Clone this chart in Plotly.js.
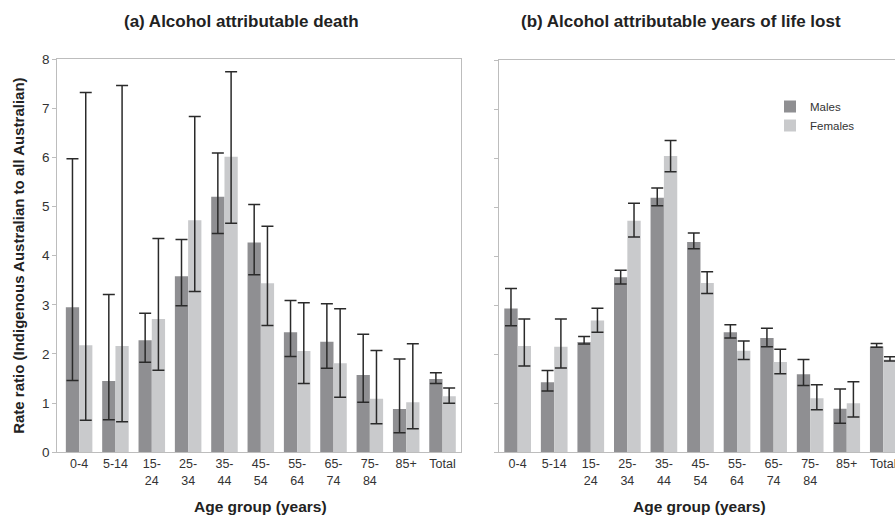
<!DOCTYPE html>
<html>
<head>
<meta charset="utf-8">
<script src="https://cdn.plot.ly/plotly-3.0.1.min.js"></script>
<style>html,body{margin:0;padding:0;background:#fff;}#chart{width:895px;height:517px;}</style>
</head>
<body>
<div id="chart"></div>
<script>
// Categories (age groups)
const ageGroups = ["0-4", "5-14", "15-<br>24", "25-<br>34", "35-<br>44", "45-<br>54", "55-<br>64", "65-<br>74", "75-<br>84", "85+", "Total"];

// (a) Alcohol attributable death – rate ratios with 95% CI
const deathMales      = [2.95, 1.45, 2.28, 3.58, 5.20, 4.27, 2.44, 2.25, 1.57, 0.88, 1.49];
const deathMalesUp    = [5.97, 3.21, 2.83, 4.33, 6.09, 5.04, 3.09, 3.02, 2.40, 1.90, 1.62];
const deathMalesLo    = [1.46, 0.66, 1.83, 2.98, 4.45, 3.61, 1.95, 1.71, 1.02, 0.40, 1.40];
const deathFemales    = [2.18, 2.16, 2.71, 4.72, 6.01, 3.44, 2.06, 1.81, 1.09, 1.02, 1.14];
const deathFemalesUp  = [7.32, 7.46, 4.35, 6.83, 7.74, 4.60, 3.04, 2.92, 2.07, 2.21, 1.31];
const deathFemalesLo  = [0.65, 0.62, 1.67, 3.27, 4.66, 2.58, 1.40, 1.12, 0.58, 0.48, 1.00];

// (b) Alcohol attributable years of life lost – rate ratios with 95% CI
const yllMales        = [2.93, 1.43, 2.25, 3.57, 5.19, 4.29, 2.45, 2.33, 1.59, 0.89, 2.16];
const yllMalesUp      = [3.34, 1.67, 2.36, 3.71, 5.39, 4.47, 2.60, 2.53, 1.89, 1.29, 2.22];
const yllMalesLo      = [2.58, 1.25, 2.21, 3.43, 5.03, 4.15, 2.33, 2.15, 1.36, 0.59, 2.14];
const yllFemales      = [2.17, 2.15, 2.69, 4.72, 6.04, 3.45, 2.07, 1.84, 1.10, 1.00, 1.89];
const yllFemalesUp    = [2.72, 2.72, 2.94, 5.08, 6.36, 3.68, 2.27, 2.10, 1.38, 1.44, 1.95];
const yllFemalesLo    = [1.76, 1.72, 2.45, 4.39, 5.72, 3.24, 1.89, 1.60, 0.87, 0.72, 1.86];

const seriesNames = ["Males", "Females"];

const maleColor = "#8f8f92";
const femaleColor = "#c9cacc";
const errColor = "#2a2a2a";
const FONT = "Liberation Sans, Arial, sans-serif";

function err(vals, up, lo) {
  return {
    type: "data", symmetric: false,
    array: vals.map((v, i) => up[i] - v),
    arrayminus: vals.map((v, i) => v - lo[i]),
    color: errColor, thickness: 1.5, width: 6, visible: true
  };
}

const idx = ageGroups.map((_, i) => i);

const traces = [
  {type: "bar", x: idx, y: deathMales, name: seriesNames[0], marker: {color: maleColor},
   error_y: err(deathMales, deathMalesUp, deathMalesLo), xaxis: "x", yaxis: "y", showlegend: false},
  {type: "bar", x: idx, y: deathFemales, name: seriesNames[1], marker: {color: femaleColor},
   error_y: err(deathFemales, deathFemalesUp, deathFemalesLo), xaxis: "x", yaxis: "y", showlegend: false},
  {type: "bar", x: idx, y: yllMales, name: seriesNames[0], marker: {color: maleColor},
   error_y: err(yllMales, yllMalesUp, yllMalesLo), xaxis: "x2", yaxis: "y2", showlegend: true},
  {type: "bar", x: idx, y: yllFemales, name: seriesNames[1], marker: {color: femaleColor},
   error_y: err(yllFemales, yllFemalesUp, yllFemalesLo), xaxis: "x2", yaxis: "y2", showlegend: true}
];

const tickFont = {family: FONT, size: 12.5, color: "#333"};
const titleFont = {family: FONT, size: 15.5, color: "#222", weight: "bold"};
const frame = "#bdbdbd";

const layout = {
  width: 895, height: 517,
  margin: {l: 0, r: 0, t: 0, b: 0},
  paper_bgcolor: "#fff", plot_bgcolor: "#fff",
  barmode: "group", bargap: 0.27, bargroupgap: 0,
  font: {family: FONT, color: "#333"},
  xaxis: {
    domain: [57.3/895, 460.7/895], range: [-0.6, 10.5],
    tickmode: "array", tickvals: idx, ticktext: ageGroups,
    tickfont: tickFont, ticks: "", showline: true, linecolor: frame, linewidth: 1, mirror: true,
    showgrid: false, zeroline: false, fixedrange: true
  },
  yaxis: {
    domain: [(517-452.3)/517, (517-59)/517], range: [0, 8],
    tickvals: [0,1,2,3,4,5,6,7,8], tickfont: {family: FONT, size: 13.5, color: "#333"},
    ticks: "outside", ticklen: 4, tickcolor: frame,
    showline: true, linecolor: frame, linewidth: 1, mirror: true,
    showgrid: false, zeroline: false, fixedrange: true,
    title: {text: "Rate ratio (Indigenous Australian to all Australian)", font: {family: FONT, size: 15, color: "#222", weight: "bold"}, standoff: 13}
  },
  xaxis2: {
    domain: [499/895, 1], range: [-0.51, 10.32], anchor: "y2",
    tickmode: "array", tickvals: idx, ticktext: ageGroups, ticklabeloverflow: "allow",
    tickfont: tickFont, ticks: "", showline: true, linecolor: frame, linewidth: 1, mirror: true,
    showgrid: false, zeroline: false, fixedrange: true
  },
  yaxis2: {
    domain: [(517-452.3)/517, (517-60)/517], range: [0, 8], anchor: "x2",
    tickvals: [0,1,2,3,4,5,6,7,8], showticklabels: false,
    ticks: "outside", ticklen: 4, tickcolor: frame,
    showline: true, linecolor: frame, linewidth: 1, mirror: false,
    showgrid: false, zeroline: false, fixedrange: true
  },
  legend: {
    x: 770/895, y: (517-92)/517, xanchor: "left", yanchor: "top",
    bgcolor: "rgba(0,0,0,0)", borderwidth: 0,
    font: {family: FONT, size: 11.5, color: "#333"},
    tracegroupgap: 0, traceorder: "normal"
  },
  annotations: [
    {text: "<b>(a) Alcohol attributable death</b>", xref: "paper", yref: "paper",
     x: 241/895, y: (517-21)/517, xanchor: "center", yanchor: "middle", showarrow: false,
     font: {family: FONT, size: 17, color: "#222"}},
    {text: "<b>(b) Alcohol attributable years of life lost</b>", xref: "paper", yref: "paper",
     x: 681/895, y: (517-21)/517, xanchor: "center", yanchor: "middle", showarrow: false,
     font: {family: FONT, size: 17, color: "#222"}},
    {text: "<b>Age group (years)</b>", xref: "paper", yref: "paper",
     x: 260/895, y: (517-506)/517, xanchor: "center", yanchor: "middle", showarrow: false,
     font: titleFont},
    {text: "<b>Age group (years)</b>", xref: "paper", yref: "paper",
     x: 699/895, y: (517-506)/517, xanchor: "center", yanchor: "middle", showarrow: false,
     font: titleFont}
  ]
};

Plotly.newPlot("chart", traces, layout, {staticPlot: true, displayModeBar: false});
</script>
</body>
</html>
